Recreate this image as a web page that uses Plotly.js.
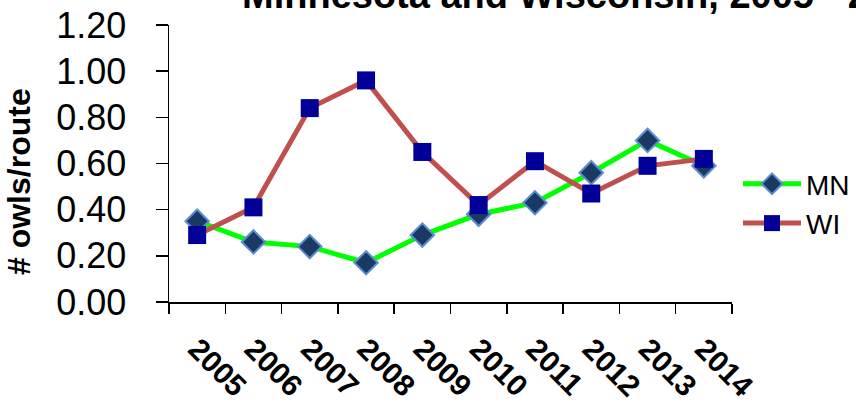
<!DOCTYPE html>
<html>
<head>
<meta charset="utf-8">
<script src="https://cdn.plot.ly/plotly-3.0.1.min.js"></script>
<style>html,body{margin:0;padding:0;background:#fff;}#chart{width:856px;height:403px;}</style>
</head>
<body>
<div id="chart"></div>
<script>
const years = ["2005","2006","2007","2008","2009","2010","2011","2012","2013","2014"];
const mnValues = [0.35, 0.26, 0.24, 0.17, 0.29, 0.38, 0.43, 0.56, 0.70, 0.59];
const wiValues = [0.29, 0.41, 0.84, 0.96, 0.65, 0.42, 0.61, 0.47, 0.59, 0.62];
const titleText = "Minnesota and Wisconsin, 2005 - 2014";
const yTitle = "# owls/route";

const traces = [
  {
    x: years, y: mnValues, name: "MN", type: "scatter", mode: "lines+markers",
    legendgroup: "mn",
    line: {color: "#00FF00", width: 5},
    marker: {symbol: "diamond", size: 18, color: "#1A3A64", line: {color: "#5B8DD0", width: 2}}
  },
  {
    x: years, y: wiValues, name: "WI", type: "scatter", mode: "lines+markers",
    legendgroup: "wi",
    line: {color: "#C0504D", width: 5},
    marker: {symbol: "square", size: 18, color: "#000099"}
  }
];

const layout = {
  width: 856, height: 403,
  margin: {l: 169, r: 124, t: 25, b: 101},
  paper_bgcolor: "#fff", plot_bgcolor: "#fff",
  font: {family: "Liberation Sans, Arial, sans-serif", color: "#000"},
  title: {
    text: titleText, font: {size: 38, family: "Liberation Sans, Arial, sans-serif", weight: "bold", color: "#000"},
    xref: "container", x: 242/856, xanchor: "left",
    yref: "paper", y: 1, yanchor: "bottom", pad: {b: 17}
  },
  xaxis: {
    type: "category",
    showline: true, linecolor: "#000", linewidth: 1.5,
    ticks: "outside", ticklen: 10, tickcolor: "#000", tickwidth: 1.5,
    tickson: "boundaries",
    tickangle: 45,
    tickfont: {size: 30, family: "Liberation Sans, Arial, sans-serif", weight: "bold"},
    ticklabelstandoff: 16,
    showgrid: false, zeroline: false,
    automargin: false,
    range: [-0.5, 9.5]
  },
  yaxis: {
    range: [0, 1.2], dtick: 0.2, tickformat: ".2f",
    showline: true, linecolor: "#000", linewidth: 1.5,
    ticks: "outside", ticklen: 12, tickcolor: "#000", tickwidth: 1.5,
    tickfont: {size: 36, family: "Liberation Sans, Arial, sans-serif"},
    ticklabelstandoff: 22,
    showgrid: false, zeroline: false,
    automargin: false
  },
  annotations: [{
    text: yTitle, textangle: -90, showarrow: false,
    xref: "paper", yref: "paper", x: (19 - 169) / 563, y: (302 - 182) / 277,
    xanchor: "center", yanchor: "middle",
    font: {size: 32, family: "Liberation Sans, Arial, sans-serif", weight: "bold", color: "#000"}
  }],
  showlegend: true,
  legend: {
    xref: "container", yref: "container",
    x: 738/856, xanchor: "left", y: 1 - 159/403, yanchor: "top",
    itemwidth: 58,
    font: {size: 28, family: "Liberation Sans, Arial, sans-serif"},
    tracegroupgap: 0, bgcolor: "rgba(0,0,0,0)"
  }
};

Plotly.newPlot("chart", traces, layout, {displayModeBar: false, staticPlot: true});
</script>
</body>
</html>
